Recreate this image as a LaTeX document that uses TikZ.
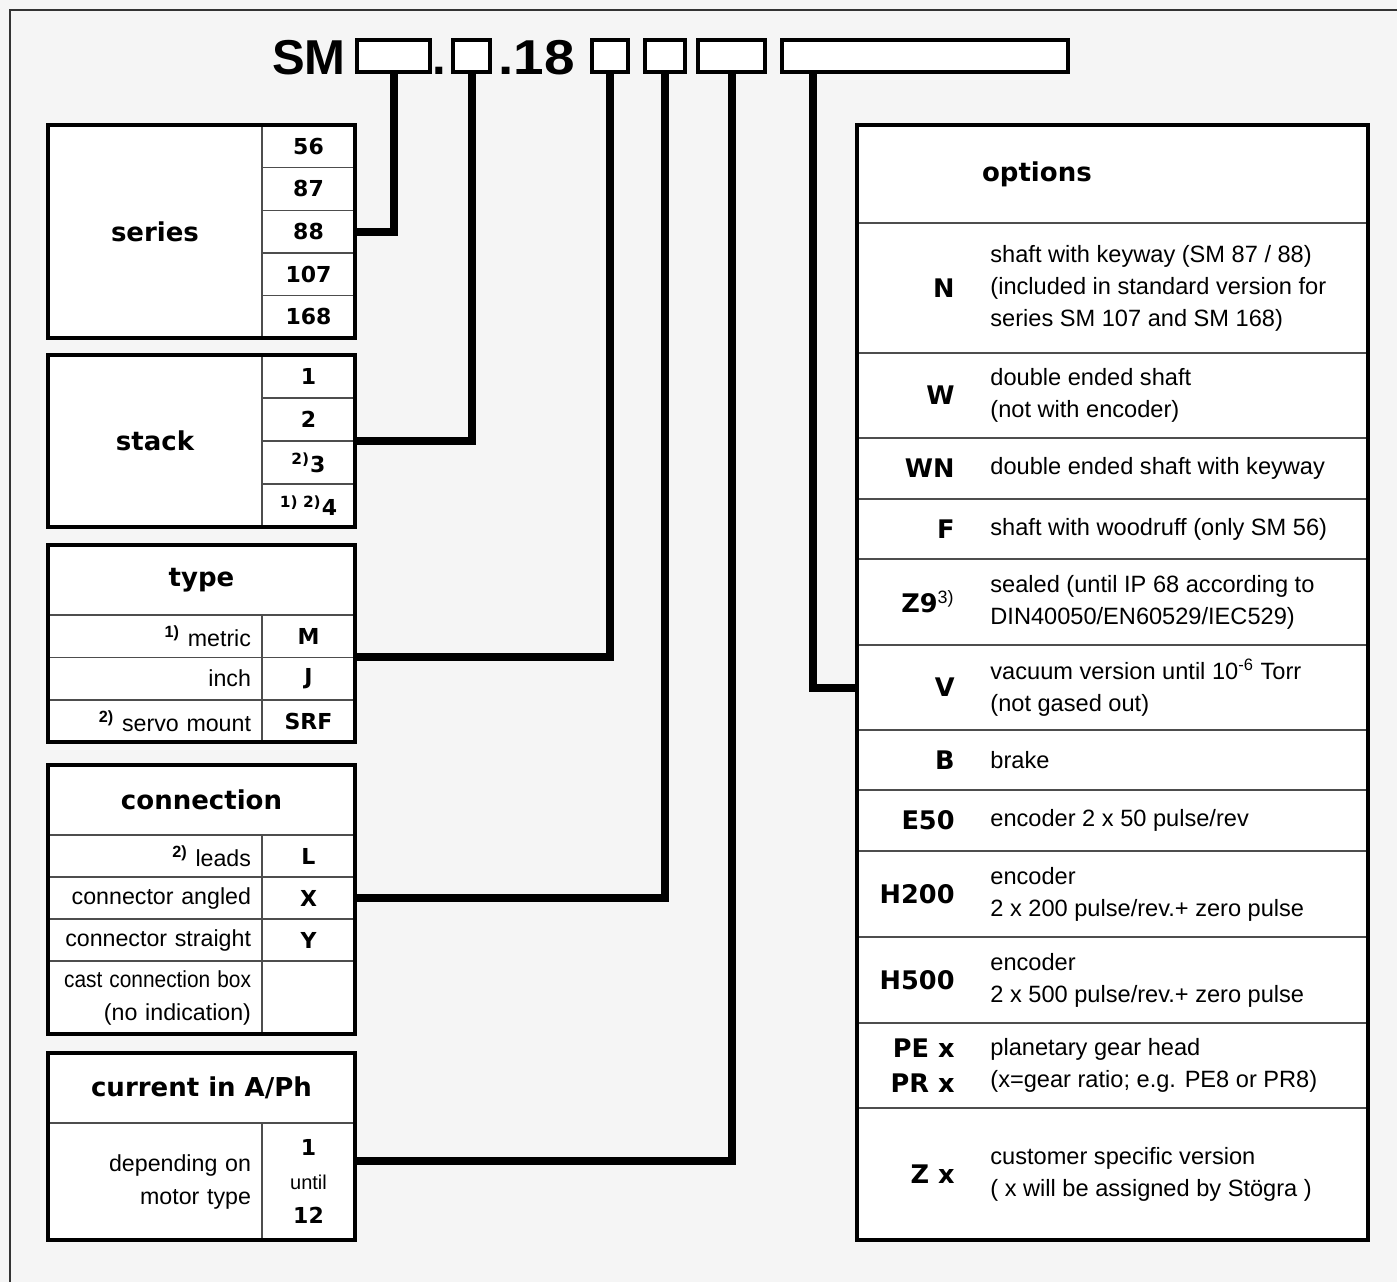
\documentclass[tikz,border=0pt]{standalone}
\usepackage{fontspec}
\setmainfont{Liberation Sans}
\newfontfamily\heavyfont{DejaVu Sans}
\usetikzlibrary{positioning, fit}
\definecolor{paper}{HTML}{F5F5F5}
\definecolor{rulegray}{HTML}{4D4D4D}
\tikzset{
    cell/.style={
        rectangle,
        draw=rulegray,
        line width=0.7pt,
        fill=white,
        inner sep=0pt,
        outer sep=0pt
    },
    frame/.style={
        rectangle,
        draw=black,
        line width=2pt,
        inner sep=0pt,
        outer sep=0pt
    },
    codebox/.style={
        rectangle,
        draw=black,
        line width=2pt,
        fill=white,
        minimum height=16pt,
        inner sep=0pt
    },
    stem/.style={
        line width=4pt
    },
    head/.style={font=\heavyfont\bfseries\fontsize{13}{16}\selectfont},
    num/.style={font=\heavyfont\bfseries\fontsize{11}{17}\selectfont},
    optcode/.style={font=\heavyfont\bfseries\fontsize{12.8}{17.5}\selectfont, align=right, inner sep=0pt},
    desc/.style={font=\fontsize{11.8}{16}\selectfont, align=left, inner sep=0pt},
    bigtxt/.style={font=\bfseries\fontsize{24.5}{28}\selectfont, inner sep=0pt},
    lblcell/.style={cell, minimum width=107pt, text width=96pt, align=right, font=\fontsize{11.6}{16.5}\selectfont},
    codecell/.style={cell, num, minimum width=46.5pt, align=center},
    hdrcell/.style={cell, head, minimum width=153.5pt, minimum height=35pt},
    optrow/.style={cell, minimum width=255.5pt}
}

\begin{document}
\begin{tikzpicture}[x=0.5pt, y=-0.5pt, node distance=0pt]

\useasboundingbox (0,0) rectangle (1397,1282);
\fill[paper] (0,0) rectangle (1397,1282);
\draw[black!80, line width=0.8pt] (10,1282) |- (1397,10);

% type designation
\node[bigtxt, anchor=base east] (sm) at (346,74) {SM};
\node[codebox, minimum width=36.5pt] (b1) at (393.5,56) {};
\node[bigtxt, anchor=base] (dot) at (439,74) {.};
\node[codebox, minimum width=18.5pt] (b2) at (471.5,56) {};
\node[bigtxt, anchor=base west] (eighteen) at (498,74) {\scalebox{1.12}[1]{.18}};
\node[codebox, minimum width=18pt] (b3) at (610,56) {};
\node[codebox, minimum width=20pt] (b4) at (665,56) {};
\node[codebox, minimum width=33.5pt] (b5) at (731.5,56) {};
\node[codebox, minimum width=143pt] (b6) at (925,56) {};

% series
\node[cell, head, minimum width=107pt, minimum height=106.5pt, anchor=north west] (series) at (48,125) {series};
\node[codecell, minimum height=21.3pt, anchor=north west] (s56) at (series.north east) {56};
\node[codecell, minimum height=21.3pt, below=of s56] (s87) {87};
\node[codecell, minimum height=21.3pt, below=of s87] (s88) {88};
\node[codecell, minimum height=21.3pt, below=of s88] (s107) {107};
\node[codecell, minimum height=21.3pt, below=of s107] (s168) {168};
\node[frame, fit=(series)(s168)] (seriesbox) {};

% stack
\node[cell, head, minimum width=107pt, minimum height=86pt, anchor=north west] (stack) at (48,355) {stack};
\node[codecell, minimum height=21.5pt, anchor=north west] (k1) at (stack.north east) {1};
\node[codecell, minimum height=21.5pt, below=of k1] (k2) {2};
\node[codecell, minimum height=21.5pt, below=of k2] (k3) {\textsuperscript{2)}3};
\node[codecell, minimum height=21.5pt, below=of k3] (k4) {\textsuperscript{1) 2)}4};
\node[frame, fit=(stack)(k4)] (stackbox) {};

% type
\node[hdrcell, anchor=north west] (type) at (48,545) {type};
\node[lblcell, minimum height=21.2pt, anchor=north west] (tM) at (type.south west) {\textsuperscript{\bfseries 1)} metric};
\node[codecell, minimum height=21.2pt, right=of tM] (tMc) {M};
\node[lblcell, minimum height=21.2pt, below=of tM] (tJ) {inch};
\node[codecell, minimum height=21.2pt, right=of tJ] (tJc) {J};
\node[lblcell, minimum height=21.2pt, below=of tJ] (tS) {\textsuperscript{\bfseries 2)} servo mount};
\node[codecell, minimum height=21.2pt, right=of tS] (tSc) {SRF};
\node[frame, fit=(type)(tSc)] (typebox) {};

% connection
\node[hdrcell, anchor=north west] (conn) at (48,765) {connection};
\node[lblcell, minimum height=21pt, anchor=north west] (cL) at (conn.south west) {\textsuperscript{\bfseries 2)} leads};
\node[codecell, minimum height=21pt, right=of cL] (cLc) {L};
\node[lblcell, minimum height=21pt, below=of cL] (cX) {connector angled};
\node[codecell, minimum height=21pt, right=of cX] (cXc) {X};
\node[lblcell, minimum height=21pt, below=of cX] (cY) {connector straight};
\node[codecell, minimum height=21pt, right=of cY] (cYc) {Y};
\node[lblcell, minimum height=36.5pt, below=of cY] (cB) {\scalebox{0.9}[1]{cast connection box}\\(no indication)};
\node[codecell, minimum height=36.5pt, right=of cB] (cBc) {};
\node[frame, fit=(conn)(cBc)] (connbox) {};

% current
\node[hdrcell, anchor=north west] (curr) at (48,1053) {current in A/Ph};
\node[lblcell, minimum height=58.5pt, anchor=north west] (cu) at (curr.south west) {depending on\\motor type};
\node[codecell, minimum height=58.5pt, right=of cu] (cuc) {1\\{\normalfont\fontsize{10}{17}\selectfont until}\\12};
\node[frame, fit=(curr)(cuc)] (currbox) {};

% options
\node[cell, minimum width=255.5pt, minimum height=49pt, anchor=north west] (opt) at (857,125) {};
\node[head, anchor=west] (opttitle) at ([xshift=59pt]opt.west) {options};

\node[optrow, minimum height=65pt, below=of opt] (oN) {};
\node[optcode, anchor=east] (oNc) at ([xshift=49pt]oN.west) {N};
\node[desc, anchor=west] (oNd) at ([xshift=66.5pt]oN.west) {shaft with keyway (SM 87 / 88)\\(included in standard version for\\series SM 107 and SM 168)};

\node[optrow, minimum height=42.5pt, below=of oN] (oW) {};
\node[optcode, anchor=east] (oWc) at ([xshift=49pt]oW.west) {W};
\node[desc, anchor=west] (oWd) at ([xshift=66.5pt]oW.west) {double ended shaft\\(not with encoder)};

\node[optrow, minimum height=30.5pt, below=of oW] (oWN) {};
\node[optcode, anchor=east] (oWNc) at ([xshift=49pt]oWN.west) {WN};
\node[desc, anchor=west] (oWNd) at ([xshift=66.5pt]oWN.west) {double ended shaft with keyway};

\node[optrow, minimum height=30pt, below=of oWN] (oF) {};
\node[optcode, anchor=east] (oFc) at ([xshift=49pt]oF.west) {F};
\node[desc, anchor=west] (oFd) at ([xshift=66.5pt]oF.west) {shaft with woodruff (only SM 56)};

\node[optrow, minimum height=43pt, below=of oF] (oZ9) {};
\node[optcode, anchor=east] (oZ9c) at ([xshift=49pt]oZ9.west) {Z9\textsuperscript{\normalfont 3)}};
\node[desc, anchor=west] (oZ9d) at ([xshift=66.5pt]oZ9.west) {sealed (until IP 68 according to\\DIN40050/EN60529/IEC529)};

\node[optrow, minimum height=42.5pt, below=of oZ9] (oV) {};
\node[optcode, anchor=east] (oVc) at ([xshift=49pt]oV.west) {V};
\node[desc, anchor=west] (oVd) at ([xshift=66.5pt]oV.west) {vacuum version until 10\textsuperscript{-6} Torr\\(not gased out)};

\node[optrow, minimum height=30pt, below=of oV] (oB) {};
\node[optcode, anchor=east] (oBc) at ([xshift=49pt]oB.west) {B};
\node[desc, anchor=west] (oBd) at ([xshift=66.5pt]oB.west) {brake};

\node[optrow, minimum height=30.5pt, below=of oB] (oE) {};
\node[optcode, anchor=east] (oEc) at ([xshift=49pt]oE.west) {E50};
\node[desc, anchor=west] (oEd) at ([xshift=66.5pt]oE.west) {encoder 2 x 50 pulse/rev};

\node[optrow, minimum height=43pt, below=of oE] (oH2) {};
\node[optcode, anchor=east] (oH2c) at ([xshift=49pt]oH2.west) {H200};
\node[desc, anchor=west] (oH2d) at ([xshift=66.5pt]oH2.west) {encoder\\2 x 200 pulse/rev.+ zero pulse};

\node[optrow, minimum height=43pt, below=of oH2] (oH5) {};
\node[optcode, anchor=east] (oH5c) at ([xshift=49pt]oH5.west) {H500};
\node[desc, anchor=west] (oH5d) at ([xshift=66.5pt]oH5.west) {encoder\\2 x 500 pulse/rev.+ zero pulse};

\node[optrow, minimum height=42.5pt, below=of oH5] (oP) {};
\node[optcode, anchor=east] (oPc) at ([xshift=49pt]oP.west) {PE x\\PR x};
\node[desc, anchor=west] (oPd) at ([xshift=66.5pt]oP.west) {planetary gear head\\(x=gear ratio; e.g. PE8 or PR8)};

\node[optrow, minimum height=66pt, below=of oP] (oZ) {};
\node[optcode, anchor=east] (oZc) at ([xshift=49pt]oZ.west) {Z x};
\node[desc, anchor=west] (oZd) at ([xshift=66.5pt]oZ.west) {customer specific version\\( x will be assigned by Stögra )};

\node[frame, fit=(opt)(oZ)] (optbox) {};

% leader lines
\draw[stem] (b1.south) |- (s88.east);
\draw[stem] (b2.south) |- (stackbox.east);
\draw[stem] (b3.south) |- (tMc.south east);
\draw[stem] (b4.south) |- (cXc.east);
\draw[stem] (b5.south) |- ([yshift=-7.25pt]currbox.east);
\draw[stem] ([xshift=16.5pt]b6.south west) |- (oV.west);

\end{tikzpicture}
\end{document}
